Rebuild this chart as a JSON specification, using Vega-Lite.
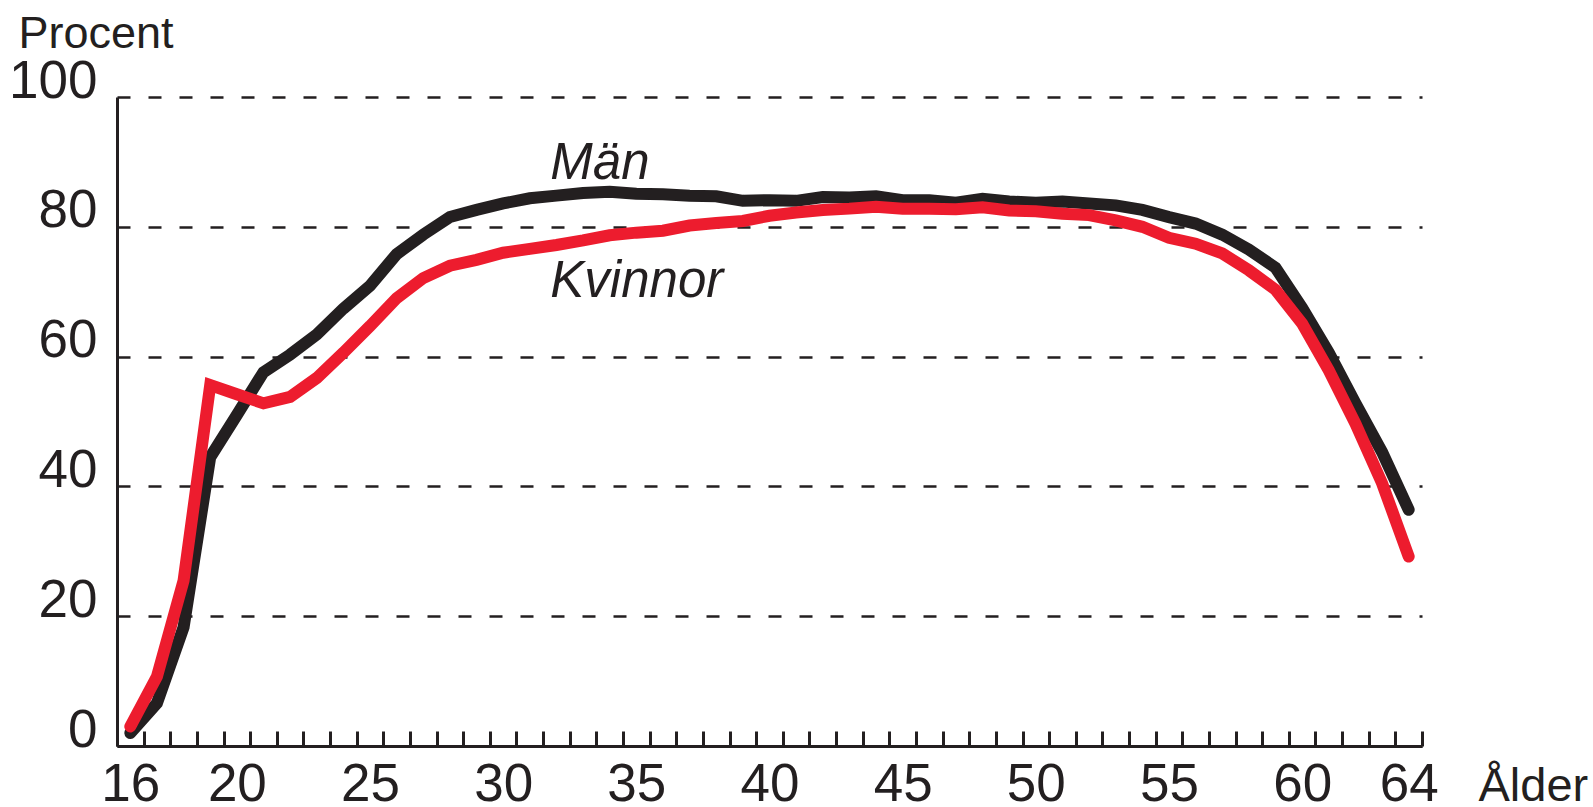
{
  "$schema": "https://vega.github.io/schema/vega-lite/v6.json",
  "width": 1305,
  "height": 649,
  "autosize": {"type": "none"},
  "padding": {"left": 117, "top": 97, "right": 171, "bottom": 61},
  "background": "white",
  "config": {"view": {"stroke": null}, "font": "Liberation Sans"},
  "layer": [
    {
      "data": {"values": [
        {"age":16,"sex":"Män","pct":2},{"age":17,"sex":"Män","pct":6.6},{"age":18,"sex":"Män","pct":18.3},{"age":19,"sex":"Män","pct":44.5},{"age":20,"sex":"Män","pct":51},
        {"age":21,"sex":"Män","pct":57.6},{"age":22,"sex":"Män","pct":60.3},{"age":23,"sex":"Män","pct":63.4},{"age":24,"sex":"Män","pct":67.4},{"age":25,"sex":"Män","pct":70.9},
        {"age":26,"sex":"Män","pct":75.8},{"age":27,"sex":"Män","pct":78.8},{"age":28,"sex":"Män","pct":81.5},{"age":29,"sex":"Män","pct":82.6},{"age":30,"sex":"Män","pct":83.6},
        {"age":31,"sex":"Män","pct":84.4},{"age":32,"sex":"Män","pct":84.8},{"age":33,"sex":"Män","pct":85.2},{"age":34,"sex":"Män","pct":85.4},{"age":35,"sex":"Män","pct":85.1},
        {"age":36,"sex":"Män","pct":85},{"age":37,"sex":"Män","pct":84.8},{"age":38,"sex":"Män","pct":84.7},{"age":39,"sex":"Män","pct":84},{"age":40,"sex":"Män","pct":84.1},
        {"age":41,"sex":"Män","pct":84},{"age":42,"sex":"Män","pct":84.6},{"age":43,"sex":"Män","pct":84.5},{"age":44,"sex":"Män","pct":84.7},{"age":45,"sex":"Män","pct":84.1},
        {"age":46,"sex":"Män","pct":84.1},{"age":47,"sex":"Män","pct":83.7},{"age":48,"sex":"Män","pct":84.3},{"age":49,"sex":"Män","pct":83.9},{"age":50,"sex":"Män","pct":83.7},
        {"age":51,"sex":"Män","pct":83.9},{"age":52,"sex":"Män","pct":83.6},{"age":53,"sex":"Män","pct":83.3},{"age":54,"sex":"Män","pct":82.6},{"age":55,"sex":"Män","pct":81.5},
        {"age":56,"sex":"Män","pct":80.5},{"age":57,"sex":"Män","pct":78.8},{"age":58,"sex":"Män","pct":76.5},{"age":59,"sex":"Män","pct":73.7},{"age":60,"sex":"Män","pct":67.5},
        {"age":61,"sex":"Män","pct":60.6},{"age":62,"sex":"Män","pct":52.8},{"age":63,"sex":"Män","pct":45.3},{"age":64,"sex":"Män","pct":36.4},
        {"age":16,"sex":"Kvinnor","pct":3},{"age":17,"sex":"Kvinnor","pct":10.7},{"age":18,"sex":"Kvinnor","pct":25.5},{"age":19,"sex":"Kvinnor","pct":55.6},{"age":20,"sex":"Kvinnor","pct":54.2},
        {"age":21,"sex":"Kvinnor","pct":52.8},{"age":22,"sex":"Kvinnor","pct":53.8},{"age":23,"sex":"Kvinnor","pct":56.7},{"age":24,"sex":"Kvinnor","pct":60.6},{"age":25,"sex":"Kvinnor","pct":64.7},
        {"age":26,"sex":"Kvinnor","pct":69},{"age":27,"sex":"Kvinnor","pct":72.1},{"age":28,"sex":"Kvinnor","pct":74},{"age":29,"sex":"Kvinnor","pct":74.9},{"age":30,"sex":"Kvinnor","pct":76},
        {"age":31,"sex":"Kvinnor","pct":76.6},{"age":32,"sex":"Kvinnor","pct":77.2},{"age":33,"sex":"Kvinnor","pct":77.9},{"age":34,"sex":"Kvinnor","pct":78.7},{"age":35,"sex":"Kvinnor","pct":79.1},
        {"age":36,"sex":"Kvinnor","pct":79.4},{"age":37,"sex":"Kvinnor","pct":80.2},{"age":38,"sex":"Kvinnor","pct":80.6},{"age":39,"sex":"Kvinnor","pct":80.9},{"age":40,"sex":"Kvinnor","pct":81.7},
        {"age":41,"sex":"Kvinnor","pct":82.2},{"age":42,"sex":"Kvinnor","pct":82.6},{"age":43,"sex":"Kvinnor","pct":82.8},{"age":44,"sex":"Kvinnor","pct":83.1},{"age":45,"sex":"Kvinnor","pct":82.8},
        {"age":46,"sex":"Kvinnor","pct":82.8},{"age":47,"sex":"Kvinnor","pct":82.7},{"age":48,"sex":"Kvinnor","pct":83},{"age":49,"sex":"Kvinnor","pct":82.5},{"age":50,"sex":"Kvinnor","pct":82.4},
        {"age":51,"sex":"Kvinnor","pct":82},{"age":52,"sex":"Kvinnor","pct":81.8},{"age":53,"sex":"Kvinnor","pct":81},{"age":54,"sex":"Kvinnor","pct":80},{"age":55,"sex":"Kvinnor","pct":78.3},
        {"age":56,"sex":"Kvinnor","pct":77.4},{"age":57,"sex":"Kvinnor","pct":75.9},{"age":58,"sex":"Kvinnor","pct":73.3},{"age":59,"sex":"Kvinnor","pct":70.3},{"age":60,"sex":"Kvinnor","pct":65.1},
        {"age":61,"sex":"Kvinnor","pct":57.9},{"age":62,"sex":"Kvinnor","pct":49.7},{"age":63,"sex":"Kvinnor","pct":40.5},{"age":64,"sex":"Kvinnor","pct":29.2}
      ]},
      "mark": {"type": "line", "strokeWidth": 12, "strokeCap": "round", "strokeJoin": "miter"},
      "encoding": {
        "x": {
          "field": "age", "type": "quantitative",
          "scale": {"domain": [15.5, 64.5], "nice": false, "zero": false},
          "axis": {
            "values": [15.5,16.5,17.5,18.5,19.5,20.5,21.5,22.5,23.5,24.5,25.5,26.5,27.5,28.5,29.5,30.5,31.5,32.5,33.5,34.5,35.5,36.5,37.5,38.5,39.5,40.5,41.5,42.5,43.5,44.5,45.5,46.5,47.5,48.5,49.5,50.5,51.5,52.5,53.5,54.5,55.5,56.5,57.5,58.5,59.5,60.5,61.5,62.5,63.5,64.5],
            "tickCount": 200,
            "labelExpr": "indexof([16,20,25,30,35,40,45,50,55,60,64], datum.value + 0.5) >= 0 ? format(datum.value + 0.5, 'd') : ''",
            "labelOffset": 13.32,
            "labelFlush": false,
            "labelOverlap": false,
            "labelBound": false,
            "tickSize": -15,
            "tickWidth": 3,
            "tickColor": "#231F20",
            "domainWidth": 3,
            "domainColor": "#231F20",
            "grid": false,
            "labelFontSize": 53,
            "labelColor": "#231F20",
            "labelBaseline": "alphabetic",
            "labelPadding": 69,
            "title": "Ålder",
            "titleX": 1361,
            "titleY": 54,
            "titleAlign": "left",
            "titleBaseline": "alphabetic",
            "titleFontSize": 47,
            "titleFontWeight": "normal",
            "titleColor": "#231F20"
          }
        },
        "y": {
          "field": "pct", "type": "quantitative",
          "scale": {"domain": [0, 100], "nice": false},
          "axis": {
            "values": [0, 20, 40, 60, 80, 100],
            "ticks": false,
            "grid": true,
            "gridDash": [13, 18],
            "gridWidth": 2.5,
            "gridColor": "#231F20",
            "gridOpacity": 1,
            "domainWidth": 3,
            "domainColor": "#231F20",
            "labelFontSize": 53,
            "labelPadding": 20,
            "labelBaseline": "alphabetic",
            "labelColor": "#231F20",
            "labelOverlap": false,
            "labelBound": false,
            "labelFlush": false,
            "title": "Procent",
            "titleAngle": 0,
            "titleX": -99,
            "titleY": -50,
            "titleAlign": "left",
            "titleBaseline": "alphabetic",
            "titleFontSize": 45,
            "titleFontWeight": "normal",
            "titleColor": "#231F20"
          }
        },
        "color": {
          "field": "sex", "type": "nominal",
          "scale": {"domain": ["Kvinnor", "Män"], "range": ["#ED1C2E", "#231F20"]},
          "legend": null
        }
      }
    },
    {
      "data": {"values": [
        {"label": "Män", "age": 31.77, "pct": 87.4},
        {"label": "Kvinnor", "age": 31.77, "pct": 69.2}
      ]},
      "mark": {"type": "text", "fontSize": 51, "fontStyle": "italic", "align": "left", "baseline": "alphabetic", "color": "#231F20"},
      "encoding": {
        "x": {"field": "age", "type": "quantitative"},
        "y": {"field": "pct", "type": "quantitative"},
        "text": {"field": "label"}
      }
    }
  ]
}
